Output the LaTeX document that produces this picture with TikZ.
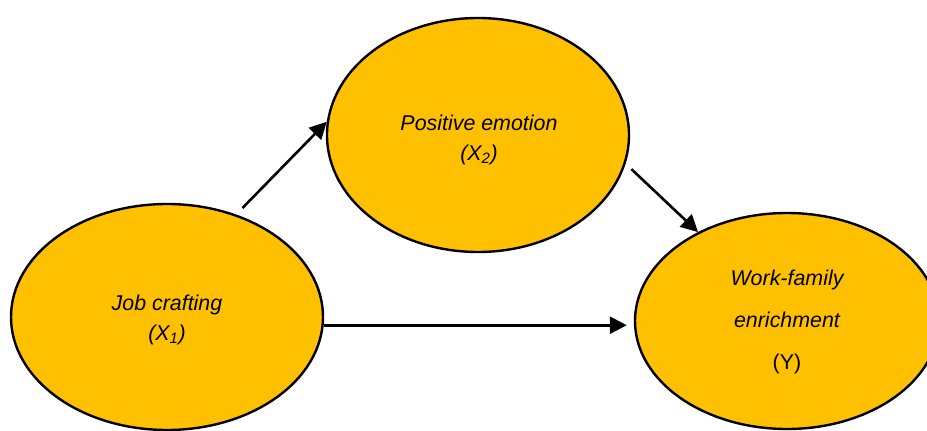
\documentclass[tikz,border=0pt]{standalone}
\usepackage{fontspec}
\setmainfont{Liberation Sans}
\usetikzlibrary{shapes.geometric,arrows.meta}
\definecolor{oval}{HTML}{FFC000}
\tikzset{
  construct/.style={ellipse, draw=black, line width=2.4pt, fill=oval,
    inner sep=0pt},
  caption/.style={align=center, inner sep=0pt,
    font=\fontsize{21.4}{30}\selectfont\itshape},
  arr/.style={line width=2.6pt, -{Triangle[length=17pt,width=17pt]}}
}
\begin{document}
\begin{tikzpicture}[x=1pt,y=-1pt]
  \useasboundingbox (0,0) rectangle (927,431);
  \clip (0,0) rectangle (927,431);

  % the three constructs of the mediation model
  \node[construct, minimum width=312pt, minimum height=226pt] (jc) at (167,317) {};
  \node[construct, minimum width=302pt, minimum height=234pt] (pe) at (478,135) {};
  \node[construct, minimum width=304pt, minimum height=216pt] (wfe) at (787,321) {};

  % their labels
  \node[caption] (jct) at (167,320) {Job crafting\\(X\textsubscript{1})};
  \node[caption] (pet) at (479,140) {Positive emotion\\(X\textsubscript{2})};
  \node[caption] (wfet) at (787,322)
    {Work-family\\[12pt]enrichment\\[12pt]\upshape (Y)};

  % paths
  \draw[arr, shorten <=9pt] (jc.56) -- (pe.175);
  \draw[arr, shorten <=8pt] (pe.-11) -- (wfe.135);
  \draw[arr] (jc.-3) -- ([xshift=-7pt]jc.-3 -| wfe.west);
\end{tikzpicture}
\end{document}
